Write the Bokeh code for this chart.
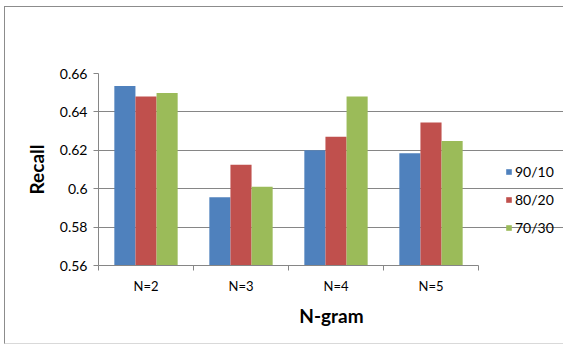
import numpy as np
from bokeh.plotting import figure
from bokeh.models import ColumnDataSource, Range1d, FixedTicker, Legend, LegendItem, Title
from bokeh.transform import dodge
from bokeh.embed import file_html
from bokeh.resources import INLINE

# Recall per N-gram size for three train/test splits
categories = ["N=2", "N=3", "N=4", "N=5"]
series_names = ["90/10", "80/20", "70/30"]
recall_90_10 = [0.6535, 0.5955, 0.6200, 0.6185]
recall_80_20 = [0.6480, 0.6125, 0.6270, 0.6345]
recall_70_30 = [0.6498, 0.6010, 0.6480, 0.6248]
y_ticks = [0.56, 0.58, 0.60, 0.62, 0.64, 0.66]
y_tick_labels = ["0.56", "0.58", "0.6", "0.62", "0.64", "0.66"]

colors = ["#4F81BD", "#C0504D", "#9BBB59"]
FONT = "Lato"
GRID = "#868686"

W, H = 559, 338          # chart area inside the outer border
FRAME_L, FRAME_T, FRAME_B = 93, 66, 80
PLOT_W = 380             # width taken by the category slots
frame_w = W - FRAME_L
n = len(categories)
x_end = n * frame_w / PLOT_W

centers = np.arange(n) + 0.5
source = ColumnDataSource(dict(
    x=centers,
    s1=recall_90_10,
    s2=recall_80_20,
    s3=recall_70_30,
))

p = figure(width=W, height=H, output_backend="svg", toolbar_location=None,
           x_range=Range1d(0, x_end), y_range=Range1d(0.56, 0.66),
           min_border_left=FRAME_L, min_border_right=0, min_border_top=FRAME_T,
           min_border_bottom=FRAME_B)
p.margin = (6, 0, 0, 4)
p.styles = {"border-left": "1px solid #8c8c8c", "border-top": "1px solid #8c8c8c",
            "border-bottom": "1px solid #d9d9d9"}
p.outline_line_color = None
p.background_fill_color = "white"
p.border_fill_color = "white"

bar_w = 1 / 4.5
renderers = []
for k, (col, c) in enumerate(zip(["s1", "s2", "s3"], colors)):
    r = p.vbar(x=dodge("x", (k - 1) * bar_w, range=p.x_range), top=col, bottom=0.56,
               width=bar_w, source=source, fill_color=c, line_color=None)
    renderers.append(r)

# y axis
p.yaxis.ticker = FixedTicker(ticks=y_ticks, minor_ticks=[])
p.yaxis.major_label_overrides = {t: s for t, s in zip(y_ticks, y_tick_labels)}
p.yaxis.axis_line_color = GRID
p.yaxis.major_tick_line_color = GRID
p.yaxis.major_tick_in = 0
p.yaxis.major_tick_out = 5
p.yaxis.minor_tick_line_color = None
p.yaxis.major_label_text_font = FONT
p.yaxis.major_label_text_font_size = "14px"
p.yaxis.major_label_text_color = "#000000"
p.yaxis.major_label_standoff = 6
p.yaxis.axis_label = "Recall"
p.yaxis.axis_label_text_font = FONT
p.yaxis.axis_label_text_font_size = "19px"
p.yaxis.axis_label_text_font_style = "bold"
p.yaxis.axis_label_text_color = "#000000"
p.yaxis.axis_label_standoff = 9

# x axis: labels at category centres, ticks at category boundaries
p.xaxis.bounds = (0, n)
p.xaxis.ticker = FixedTicker(ticks=list(centers), minor_ticks=list(range(n + 1)))
p.xaxis.major_label_overrides = {float(c): name for c, name in zip(centers, categories)}
p.xaxis.axis_line_color = GRID
p.xaxis.major_tick_line_color = None
p.xaxis.major_tick_in = 0
p.xaxis.major_tick_out = 0
p.xaxis.minor_tick_line_color = GRID
p.xaxis.minor_tick_in = 0
p.xaxis.minor_tick_out = 5
p.xaxis.major_label_text_font = FONT
p.xaxis.major_label_text_font_size = "13px"
p.xaxis.major_label_text_color = "#000000"
p.xaxis.major_label_standoff = 7

# x axis title, centred under the category slots
x_title = Title(text="N-gram", align="center", offset=-(frame_w - PLOT_W) / 2,
                text_font=FONT, text_font_size="19px", text_font_style="bold",
                text_color="#000000", standoff=10)
p.add_layout(x_title, "below")

p.xgrid.grid_line_color = None
p.ygrid.ticker = FixedTicker(ticks=y_ticks)
p.ygrid.bounds = (0, n)
p.ygrid.grid_line_color = GRID
p.ygrid.grid_line_width = 1

legend = Legend(items=[LegendItem(label=s, renderers=[r]) for s, r in zip(series_names, renderers)],
                location=(407, 29))
legend.border_line_color = None
legend.background_fill_alpha = 0
legend.padding = 0
legend.margin = 0
legend.glyph_width = 7
legend.glyph_height = 7
legend.label_height = 7
legend.spacing = 11
legend.label_standoff = 3
legend.label_text_font = FONT
legend.label_text_font_size = "14px"
legend.label_text_color = "#000000"
p.add_layout(legend, "center")

open("out.html", "w").write(file_html(p, INLINE))
